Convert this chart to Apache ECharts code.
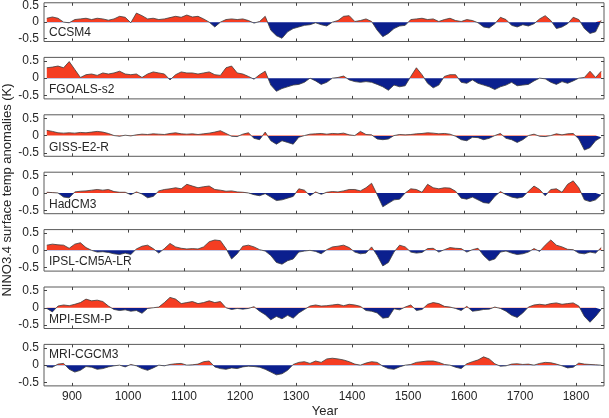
<!DOCTYPE html>
<html>
<head>
<meta charset="utf-8">
<script src="https://cdn.jsdelivr.net/npm/echarts@6/dist/echarts.min.js"></script>
<style>
  html, body { margin: 0; padding: 0; background: #fff; }
  #chart { width: 609px; height: 418px; }
</style>
</head>
<body>
<div id="chart"></div>
<script>
// decadal samples, 855..1845
const years = [
  855, 865, 875, 885, 895, 905, 915, 925, 935, 945,
  955, 965, 975, 985, 995, 1005, 1015, 1025, 1035, 1045,
  1055, 1065, 1075, 1085, 1095, 1105, 1115, 1125, 1135, 1145,
  1155, 1165, 1175, 1185, 1195, 1205, 1215, 1225, 1235, 1245,
  1255, 1265, 1275, 1285, 1295, 1305, 1315, 1325, 1335, 1345,
  1355, 1365, 1375, 1385, 1395, 1405, 1415, 1425, 1435, 1445,
  1455, 1465, 1475, 1485, 1495, 1505, 1515, 1525, 1535, 1545,
  1555, 1565, 1575, 1585, 1595, 1605, 1615, 1625, 1635, 1645,
  1655, 1665, 1675, 1685, 1695, 1705, 1715, 1725, 1735, 1745,
  1755, 1765, 1775, 1785, 1795, 1805, 1815, 1825, 1835, 1845
]

const models = ['CCSM4', 'FGOALS-s2', 'GISS-E2-R', 'HadCM3', 'IPSL-CM5A-LR', 'MPI-ESM-P', 'MRI-CGCM3']

const ccsm4 = [
  0.12, 0.16, 0.12, 0.0, -0.02, 0.08, 0.1, 0.12, 0.08, 0.12,
  0.1, 0.06, 0.1, 0.18, 0.15, -0.02, 0.28, 0.2, 0.1, 0.12,
  0.08, 0.1, 0.14, 0.18, 0.15, 0.22, 0.16, 0.18, 0.1, 0.0,
  -0.15, 0.0, 0.08, 0.1, 0.08, 0.1, 0.05, -0.03, 0.02, 0.18,
  -0.25, -0.42, -0.5, -0.3, -0.2, -0.15, -0.1, -0.08, -0.02, -0.08,
  -0.12, 0.0, 0.05, 0.18, 0.2, 0.02, 0.05, 0.1, 0.02, -0.25,
  -0.45, -0.35, -0.2, -0.12, -0.1, 0.08, 0.1, 0.12, 0.08, 0.1,
  0.02, 0.08, 0.12, 0.05, 0.02, 0.08, 0.05, -0.02, -0.15, -0.18,
  -0.05, 0.15, 0.08, -0.1, -0.15, -0.08, -0.12, -0.05, 0.1, 0.2,
  0.05, -0.2, -0.15, -0.05, 0.15, 0.08, -0.2, -0.35, -0.3, 0.05
]
const fgoals = [
  0.3, 0.32, 0.35, 0.3, 0.48, 0.25, 0.02, 0.1, 0.12, 0.08,
  0.15, 0.12, 0.15, 0.2, 0.12, 0.1, 0.12, 0.02, 0.12, 0.18,
  0.15, 0.12, -0.05, 0.1, 0.18, 0.15, 0.15, 0.12, 0.15, 0.18,
  0.1, 0.08, 0.3, 0.35, 0.15, 0.12, 0.05, -0.03, 0.1, 0.2,
  -0.2, -0.38, -0.3, -0.25, -0.2, -0.18, -0.12, 0.0, -0.08, -0.18,
  -0.12, 0.0, 0.02, 0.06, -0.05, -0.1, -0.12, -0.1, -0.12, -0.18,
  -0.25, -0.35, -0.2, -0.25, -0.22, 0.05, 0.3, 0.1, -0.15, -0.28,
  -0.2, 0.05, 0.1, 0.1, -0.12, -0.15, -0.05, -0.15, -0.2, -0.25,
  -0.33, -0.25, -0.2, -0.12, -0.22, -0.2, -0.18, -0.08, 0.0, -0.02,
  -0.12, -0.18, -0.1, -0.15, -0.08, 0.0, 0.02, 0.2, 0.02, 0.2
]
const giss = [
  0.15, 0.12, 0.08, 0.07, 0.08, 0.07, 0.09, 0.08, 0.1, 0.12,
  0.1, 0.06, 0.0, -0.02, 0.01, -0.01, 0.02, 0.04, 0.03, 0.05,
  0.04, 0.03, 0.06, 0.08, 0.05, 0.04, 0.05, 0.03, 0.05, 0.07,
  0.1, 0.14, 0.06, -0.02, -0.03, 0.04, 0.08, -0.08, -0.12, 0.1,
  -0.15, -0.25, -0.15, -0.2, -0.25, -0.05, 0.0, 0.04, 0.05, 0.06,
  0.04, 0.06, 0.05, 0.07, 0.02, 0.0, 0.12, 0.03, 0.02, -0.1,
  -0.12, -0.1, 0.0, 0.03, 0.02, 0.03, 0.05, 0.06, 0.08, 0.07,
  0.05, 0.06, 0.04, -0.02, -0.12, -0.15, -0.05, -0.06, -0.12, -0.08,
  0.0, 0.06, -0.08, -0.12, -0.2, -0.12, 0.0, 0.04, -0.02, -0.03,
  0.0, 0.05, 0.02, 0.05, 0.06, -0.1, -0.42, -0.35, -0.15, -0.05
]
const hadcm3 = [
  0.02, 0.01, 0.0, -0.12, -0.14, 0.03, 0.05, 0.06, 0.08, 0.1,
  0.08, 0.1, 0.04, 0.02, 0.02, -0.05, 0.03, -0.03, -0.14, -0.1,
  0.06, 0.1, 0.12, 0.15, 0.12, 0.25, 0.2, 0.15, 0.18, 0.2,
  0.1, 0.08, 0.05, 0.06, 0.03, 0.02, 0.0, -0.05, -0.08, -0.02,
  -0.12, -0.22, -0.2, -0.15, -0.1, 0.12, 0.08, -0.08, 0.03, -0.04,
  0.02, 0.04, 0.03, 0.06, 0.1, 0.1, 0.06, 0.15, 0.28, -0.05,
  -0.4, -0.3, -0.2, -0.18, 0.0, 0.12, 0.1, 0.02, 0.25, 0.15,
  0.12, 0.15, 0.14, 0.05, -0.15, -0.18, -0.12, -0.2, -0.28, -0.3,
  -0.1, 0.04, -0.05, -0.12, -0.15, -0.12, 0.05, 0.2, 0.1, -0.08,
  0.1, 0.12, 0.02, 0.25, 0.35, 0.15, -0.2, -0.25, -0.2, -0.05
]
const ipsl = [
  0.15, 0.18, 0.16, 0.15, 0.06, 0.18, 0.22, 0.08, 0.0, -0.05,
  -0.04, -0.06, -0.1, -0.12, -0.08, -0.12, 0.04, 0.12, 0.15, 0.05,
  -0.08, 0.05, 0.2, 0.1, 0.06, 0.04, 0.05, 0.04, 0.1, 0.25,
  0.3, 0.28, 0.05, -0.25, -0.1, 0.12, 0.15, 0.1, 0.02, -0.02,
  -0.15, -0.35, -0.4, -0.3, -0.25, -0.05, -0.02, 0.0, -0.03, -0.1,
  0.02, 0.1, 0.12, 0.15, 0.08, -0.05, -0.1, -0.08, 0.1, -0.15,
  -0.45, -0.35, -0.05, 0.15, 0.1, -0.05, -0.08, -0.06, 0.05, 0.06,
  -0.05, 0.02, 0.08, 0.06, 0.05, -0.05, 0.02, 0.06, -0.15, -0.3,
  -0.25, -0.05, -0.02, -0.08, -0.12, -0.1, -0.05, 0.05, -0.03, 0.15,
  0.3, 0.15, 0.1, 0.03, 0.02, -0.08, -0.1, -0.05, -0.08, 0.08
]
const mpi = [
  -0.02, -0.12, 0.05, 0.08, 0.06, 0.1, 0.15, 0.25, 0.2, 0.22,
  0.18, 0.05, -0.05, -0.08, -0.06, -0.1, -0.08, -0.16, -0.02, 0.0,
  0.02, 0.15, 0.3, 0.25, 0.12, 0.15, 0.18, 0.12, 0.15, 0.2,
  0.15, 0.18, 0.0, -0.05, -0.02, -0.04, -0.02, 0.03, -0.1, -0.2,
  -0.35, -0.25, -0.32, -0.22, -0.3, -0.15, -0.05, 0.05, 0.08, 0.05,
  0.06, 0.08, 0.1, 0.06, 0.1, 0.08, 0.04, -0.08, -0.1, -0.15,
  -0.3, -0.28, -0.03, -0.06, 0.02, 0.08, -0.08, -0.05, 0.1, 0.15,
  0.12, 0.04, 0.02, -0.02, -0.08, 0.04, -0.1, -0.08, -0.05, -0.04,
  0.02, -0.02, -0.1, -0.22, -0.28, -0.15, 0.02, 0.08, 0.1, 0.08,
  0.12, 0.14, 0.1, 0.12, 0.14, 0.05, -0.25, -0.42, -0.25, -0.05
]
const mri = [
  -0.05, -0.06, 0.03, 0.05, -0.12, -0.2, -0.15, -0.04, -0.06, -0.12,
  -0.1, -0.05, -0.02, 0.0, -0.05, 0.02, -0.02, -0.1, -0.15, -0.08,
  0.0, -0.02, 0.02, 0.04, 0.05, 0.0, 0.01, 0.03, 0.1, 0.12,
  -0.05, -0.1, -0.12, -0.08, -0.1, -0.05, -0.03, -0.04, -0.06, -0.12,
  -0.2, -0.28, -0.25, -0.15, 0.02, 0.08, 0.1, 0.05, 0.12, 0.08,
  0.18, 0.2, 0.18, 0.15, 0.1, 0.03, 0.0, 0.06, 0.1, 0.08,
  -0.03, -0.1, -0.12, -0.05, 0.0, 0.02, 0.08, 0.1, 0.12, 0.12,
  0.08, 0.02, 0.0, -0.06, -0.1, 0.04, 0.1, 0.15, 0.24, 0.18,
  0.04, -0.03, -0.02, 0.03, 0.04, 0.02, 0.03, 0.0, 0.05, 0.08,
  0.07, 0.03, -0.02, -0.08, -0.06, 0.06, 0.03, 0.02, 0.01, 0.0
]

const seriesValues = [ccsm4, fgoals, giss, hadcm3, ipsl, mpi, mri]
const xTicks = [900, 1000, 1100, 1200, 1300, 1400, 1500, 1600, 1700, 1800]
const yTicks = [-0.5, 0, 0.5]

const RED = '#f53d22'
const BLUE = '#0b1f8e'
const LINE = '#3c3c3c'
const TEXT = '#262626'
const FONT = '"Liberation Sans", Arial, Helvetica, sans-serif'

const panelLeft = 44
const panelWidth = 560
const panelHeight = 41.5
const panelStep = 57.4

const grids = []
const xAxes = []
const yAxes = []
const series = []
const labels = []

models.forEach((name, i) => {
  const top = i * panelStep
  const last = i === models.length - 1
  grids.push({
    left: panelLeft, top: top, width: panelWidth, height: panelHeight,
    show: true, borderColor: '#5a5a5a', borderWidth: 1, backgroundColor: 'transparent'
  })
  const tick = { show: true, inside: true, length: 3, customValues: xTicks, lineStyle: { color: '#444' } }
  xAxes.push({
    gridIndex: i, type: 'value', min: 850, max: 1850,
    axisLine: { show: false, onZero: false }, splitLine: { show: false },
    axisTick: tick,
    axisLabel: {
      show: last, customValues: xTicks, margin: 5, color: TEXT, fontSize: 12, fontFamily: FONT,
      formatter: (v) => String(v)
    }
  })
  xAxes.push({
    gridIndex: i, type: 'value', min: 850, max: 1850, position: 'top',
    axisLine: { show: false, onZero: false }, splitLine: { show: false },
    axisTick: tick, axisLabel: { show: false }
  })
  const ytick = { show: true, inside: true, length: 3, customValues: yTicks, lineStyle: { color: '#444' } }
  yAxes.push({
    gridIndex: i, type: 'value', min: -0.6, max: 0.6,
    axisLine: { show: false, onZero: false }, splitLine: { show: false },
    axisTick: ytick,
    axisLabel: { customValues: yTicks, margin: 5, color: TEXT, fontSize: 12, fontFamily: FONT }
  })
  yAxes.push({
    gridIndex: i, type: 'value', min: -0.6, max: 0.6, position: 'right',
    axisLine: { show: false, onZero: false }, splitLine: { show: false },
    axisTick: ytick, axisLabel: { show: false }
  })
  const data = years.map((y, k) => [y, seriesValues[i][k]])
  series.push({
    name: name + ' fill', type: 'line', xAxisIndex: 2 * i, yAxisIndex: 2 * i,
    data: data, symbol: 'none', silent: true,
    lineStyle: { width: 0 }, areaStyle: { opacity: 1 }, z: 2
  })
  series.push({
    name: name, type: 'line', xAxisIndex: 2 * i, yAxisIndex: 2 * i,
    data: data, symbol: 'none', silent: true,
    lineStyle: { width: 0.8, color: LINE }, z: 3
  })
  labels.push({
    type: 'text', left: panelLeft + 5,
    top: last ? top + 4 : top + panelHeight - 15,
    style: { text: name, fill: TEXT, font: '12px ' + FONT }
  })
})

labels.push({
  type: 'text', x: 7, y: 190, rotation: Math.PI / 2,
  style: { text: 'NINO3.4 surface temp anomalies (K)', fill: TEXT, font: '13px ' + FONT,
    align: 'center', verticalAlign: 'middle' }
})
labels.push({
  type: 'text', x: 325, y: 411,
  style: { text: 'Year', fill: TEXT, font: '13px ' + FONT, align: 'center', verticalAlign: 'middle' }
})

const chart = echarts.init(document.getElementById('chart'), null, { renderer: 'canvas' })
chart.setOption({
  animation: false,
  backgroundColor: '#fff',
  grid: grids,
  xAxis: xAxes,
  yAxis: yAxes,
  visualMap: {
    type: 'piecewise', show: false, dimension: 1,
    seriesIndex: series.map((s, k) => k).filter((k) => k % 2 === 0),
    pieces: [{ min: -1, max: 0, color: BLUE }, { min: 0, max: 1, color: RED }]
  },
  series: series,
  graphic: labels
})
</script>
</body>
</html>
